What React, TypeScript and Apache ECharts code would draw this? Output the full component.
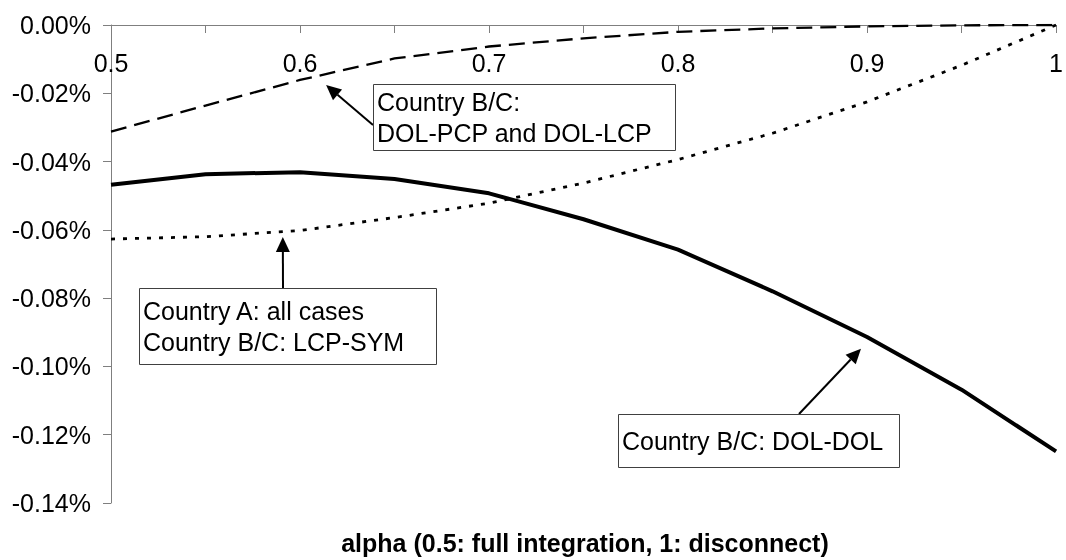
import React, { useEffect, useRef } from "react";
import * as echarts from "echarts";

const alpha = [0.5, 0.55, 0.6, 0.65, 0.7, 0.75, 0.8, 0.85, 0.9, 0.95, 1.0];
const dolDol = [-0.0468, -0.0437, -0.0431, -0.0451, -0.0493, -0.0569, -0.0658, -0.078, -0.0914, -0.1068, -0.1249];
const dolPcpLcp = [-0.0312, -0.0236, -0.0161, -0.0098, -0.0063, -0.0039, -0.002, -0.001, -0.0004, -0.0001, 0];
const countryAll = [-0.0627, -0.062, -0.0602, -0.0564, -0.0522, -0.0463, -0.0394, -0.0317, -0.0225, -0.0118, 0];

const xTitle = "alpha (0.5: full integration, 1: disconnect)";

const annotations = [
  { lines: ["Country B/C:", "DOL-PCP and DOL-LCP"], box: [373, 84, 302, 66], tail: [373, 125], tip: [0.6138, -0.0176] },
  { lines: ["Country A: all cases", "Country B/C: LCP-SYM"], box: [139, 288, 297, 76], tail: [283, 288], tip: [0.5909, -0.0621] },
  { lines: ["Country B/C: DOL-DOL"], box: [618, 414, 281, 53], tail: [799, 414], tip: [0.8968, -0.0948] },
];

const FONT = '"Liberation Sans", Arial, sans-serif';

export default function App() {
  const ref = useRef<HTMLDivElement>(null);
  useEffect(() => {
    if (!ref.current) return;
    const chart = echarts.init(ref.current, null, { renderer: "svg" });
    const pairs = (ys: number[]) => alpha.map((a, i) => [a, ys[i]]);
    chart.setOption({
      animation: false,
      grid: { left: 111, right: 7, top: 25, bottom: 57 },
      xAxis: {
        type: "value",
        position: "top",
        min: 0.5,
        max: 1,
        interval: 0.05,
        axisLine: { show: true, onZero: false, lineStyle: { color: "#7f7f7f", width: 1 } },
        axisTick: { show: true, inside: true, length: 8, lineStyle: { color: "#7f7f7f" } },
        axisLabel: {
          inside: true,
          margin: 25,
          fontSize: 25,
          fontFamily: FONT,
          color: "#000",
          showMinLabel: true,
          showMaxLabel: true,
          formatter: (v: number) => (Math.round(v * 100) % 10 === 0 ? String(Number(v.toFixed(2))) : ""),
        },
        splitLine: { show: false },
      },
      yAxis: {
        type: "value",
        min: -0.14,
        max: 0,
        interval: 0.02,
        axisLine: { show: true, lineStyle: { color: "#7f7f7f", width: 1 } },
        axisTick: { show: true, length: 8, lineStyle: { color: "#7f7f7f" } },
        axisLabel: {
          margin: 20,
          fontSize: 25,
          fontFamily: FONT,
          color: "#000",
          formatter: (v: number) => (Math.abs(v) < 1e-9 ? "0.00%" : v.toFixed(2) + "%"),
        },
        splitLine: { show: false },
      },
      series: [
        {
          name: "DOL-PCP and DOL-LCP",
          type: "line",
          symbol: "none",
          data: pairs(dolPcpLcp),
          lineStyle: { color: "#000", width: 2.3, type: [16, 8] },
          z: 2,
        },
        {
          name: "Country A / LCP-SYM",
          type: "line",
          symbol: "none",
          data: pairs(countryAll),
          lineStyle: { color: "#000", width: 2.8, type: [4, 8] },
          z: 2,
        },
        {
          name: "DOL-DOL",
          type: "line",
          symbol: "none",
          data: pairs(dolDol),
          lineStyle: { color: "#000", width: 4 },
          z: 3,
        },
      ],
    });

    const graphics: any[] = [];
    annotations.forEach((an) => {
      const tip = chart.convertToPixel({ gridIndex: 0 }, an.tip) as number[];
      const [tx, ty] = an.tail;
      const dx = tip[0] - tx;
      const dy = tip[1] - ty;
      const len = Math.sqrt(dx * dx + dy * dy);
      const ux = dx / len;
      const uy = dy / len;
      const hl = 15;
      const hw = 7;
      const bx = tip[0] - ux * hl;
      const by = tip[1] - uy * hl;
      graphics.push({
        type: "line",
        shape: { x1: tx, y1: ty, x2: bx, y2: by },
        style: { stroke: "#000", lineWidth: 2 },
        z: 10,
      });
      graphics.push({
        type: "polygon",
        shape: {
          points: [
            [tip[0], tip[1]],
            [bx - uy * hw, by + ux * hw],
            [bx + uy * hw, by - ux * hw],
          ],
        },
        style: { fill: "#000" },
        z: 10,
      });
      const [x, y, w, h] = an.box;
      graphics.push({
        type: "rect",
        shape: { x: x + 0.5, y: y + 0.5, width: w, height: h },
        style: { fill: "#fff", stroke: "#404040", lineWidth: 1 },
        z: 11,
      });
      graphics.push({
        type: "text",
        x: x + 4,
        y: y + h / 2,
        style: {
          text: an.lines.join("\n"),
          font: `25px ${FONT}`,
          lineHeight: 31,
          fill: "#000",
          textAlign: "left",
          textVerticalAlign: "middle",
        },
        z: 12,
      });
    });
    graphics.push({
      type: "text",
      x: 585,
      y: 543,
      style: {
        text: xTitle,
        font: `bold 25px ${FONT}`,
        fill: "#000",
        textAlign: "center",
        textVerticalAlign: "middle",
      },
      z: 12,
    });
    chart.setOption({ graphic: graphics });

    return () => chart.dispose();
  }, []);
  return <div ref={ref} style={{ position: "fixed", left: 0, top: 0, width: 1066, height: 560 }} />;
}
